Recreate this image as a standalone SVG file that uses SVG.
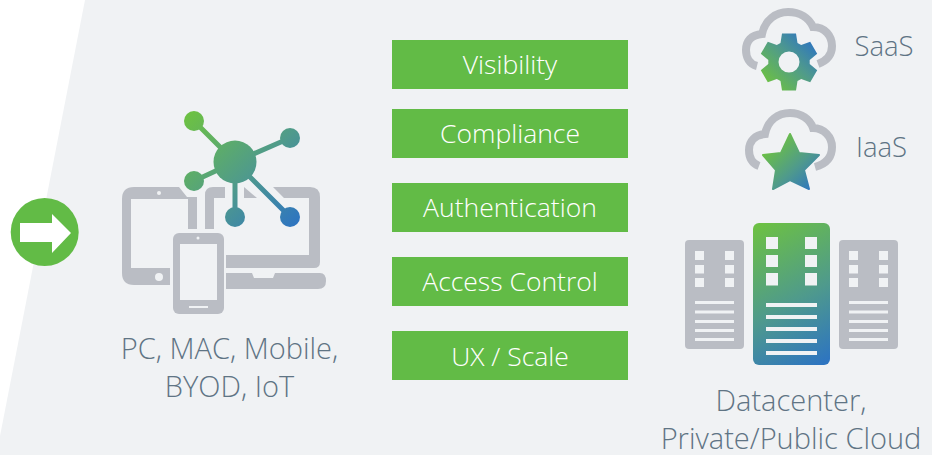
<svg xmlns="http://www.w3.org/2000/svg" width="932" height="455" viewBox="0 0 932 455">
<style>
text{font-family:"Open Sans","Noto Sans","Liberation Sans",sans-serif;font-weight:300}
.box{fill:#62bb46}
.bt{fill:#fff;font-size:26.500px;text-anchor:middle}
.lb{fill:#5f7484;font-size:29px;text-anchor:middle}
.sm{font-size:27.500px}
.dev{fill:#babdc4}
.bg{fill:#f0f2f4}
.cl{fill:none;stroke:#babdc4;stroke-width:8}
.srv{fill:#babdc4}
.sl{fill:#f0f2f4}
</style>
<defs>
<linearGradient id="gn" gradientUnits="userSpaceOnUse" x1="190" y1="115" x2="295" y2="225"><stop offset="0" stop-color="#6cc044"/><stop offset=".55" stop-color="#4f9a8c"/><stop offset="1" stop-color="#2e75c0"/></linearGradient>
<linearGradient id="gg" gradientUnits="userSpaceOnUse" x1="768" y1="84" x2="812" y2="40"><stop offset="0" stop-color="#6cc044"/><stop offset=".55" stop-color="#4f9a8c"/><stop offset="1" stop-color="#2e75c0"/></linearGradient>
<linearGradient id="gs" gradientUnits="userSpaceOnUse" x1="770" y1="146" x2="812" y2="190"><stop offset="0" stop-color="#6cc044"/><stop offset=".55" stop-color="#4f9a8c"/><stop offset="1" stop-color="#2e75c0"/></linearGradient>
<linearGradient id="gd" gradientUnits="userSpaceOnUse" x1="755" y1="228" x2="828" y2="360"><stop offset="0" stop-color="#6cc044"/><stop offset=".55" stop-color="#4f9a8c"/><stop offset="1" stop-color="#2e75c0"/></linearGradient>
<g id="sv"><rect class="srv" x="0" y="0" width="59" height="109" rx="4"/>
<rect class="sl" x="10" y="11" width="9" height="9"/><rect class="sl" x="40" y="11" width="9" height="9"/><rect class="sl" x="10" y="25" width="9" height="8.500"/><rect class="sl" x="40" y="25" width="9" height="8.500"/><rect class="sl" x="10" y="38" width="9" height="9"/><rect class="sl" x="40" y="38" width="9" height="9"/>
<rect class="sl" x="10" y="61" width="39" height="3"/><rect class="sl" x="10" y="70.500" width="39" height="3"/><rect class="sl" x="10" y="80" width="39" height="3"/><rect class="sl" x="10" y="89" width="39" height="3"/><rect class="sl" x="10" y="98" width="39" height="3"/></g>
</defs>
<rect width="932" height="455" fill="#fff"/>
<polygon class="bg" points="85,0 932,0 932,455 0,455 0,436"/>
<g id="arrow-badge"><circle cx="44.700" cy="232" r="34" fill="#62bb46"/><polygon points="20,223 52,223 52,214 71,233 52,253 52,242 20,242" fill="#fff"/></g>
<g id="devices">
<path class="dev" d="M134,187H179L187,197H197V229H188V199H131V268H170V285H134Q122,285 122,273V199Q122,187 134,187Z"/>
<circle class="bg" cx="159" cy="193" r="2"/><circle class="bg" cx="159" cy="277" r="4"/>
<path class="dev" d="M213,187H225V198H214V229H205V195Q205,187 213,187Z"/>
<polygon class="dev" points="244,187 257,198 244,198"/>
<path class="dev" d="M273,187H310Q320,187 320,197V262Q320,268 314,268H226V255H309V198H284Z"/>
<path class="dev" d="M226,273H252L254,278H273L275,273H320Q326,273 326,281Q326,289 318,289H226Z"/>
<rect x="173" y="233" width="51" height="81" rx="6" class="dev"/>
<rect x="180" y="244" width="37" height="56" class="bg"/>
<circle class="bg" cx="198" cy="238" r="1.500"/><rect x="189" y="306" width="19" height="2" class="bg"/>
</g>
<g id="hub" stroke="url(#gn)" fill="url(#gn)">
<path d="M194,121L235,162M290,138L235,162M194,181L235,162M235,217V162M290,217L235,162" stroke-width="5" fill="none"/>
<g stroke="none"><circle cx="235" cy="162" r="21.500"/><circle cx="194" cy="121" r="10"/><circle cx="290" cy="138" r="10"/><circle cx="194" cy="181" r="10"/><circle cx="235" cy="217" r="10"/><circle cx="290" cy="217" r="10"/></g>
</g>
<g id="pc-label"><text class="lb" x="229.500" y="359">PC, MAC, Mobile,</text><text class="lb" x="229.500" y="397">BYOD, IoT</text></g>
<g id="visibility"><rect class="box" x="392" y="40" width="236" height="49"/><text class="bt" x="510" y="74">Visibility</text></g>
<g id="compliance"><rect class="box" x="392" y="109" width="236" height="49"/><text class="bt" x="510" y="143">Compliance</text></g>
<g id="authentication"><rect class="box" x="392" y="183" width="236" height="49"/><text class="bt" x="510" y="217">Authentication</text></g>
<g id="access-control"><rect class="box" x="392" y="257" width="236" height="49"/><text class="bt" x="510" y="291">Access Control</text></g>
<g id="ux-scale"><rect class="box" x="392" y="331" width="236" height="49"/><text class="bt" x="510" y="366">UX / Scale</text></g>
<g id="saas">
<path class="cl" d="M757,66C749,64 746,57 746,50C746,41 751,35 762,34C765,20 776,12 788,12C800,12 809,18 813,27C825,27 832,36 832,46C832,55 826,61 818,64"/>
<path fill="url(#gg)" fill-rule="evenodd" d="M780.500,43L782,33.500H796L797.500,43L801.200,45.100L810.200,41.700L817.200,53.800L809.700,59.900V64.100L817.200,70.200L810.200,82.300L801.200,78.900L797.500,81L796,90.500H782L780.500,81L776.800,78.900L767.800,82.300L760.800,70.200L768.300,64.100V59.900L760.800,53.800L767.800,41.700L776.800,45.100ZM789,51.500A10.500,10.500 0 1 0 789,72.500A10.500,10.500 0 1 0 789,51.500Z"/>
<text class="lb sm" x="884" y="56">SaaS</text>
</g>
<g id="iaas">
<path class="cl" d="M759,166C751,163 749,156 749,150C749,141 755,135 765,134C768,120 778,113 790,113C801,113 810,119 813,128C824,128 832,137 832,147C832,157 826,164 815,167"/>
<polygon fill="url(#gs)" stroke="url(#gs)" stroke-width="2" stroke-linejoin="round" points="790,134 799,153 819,155 804,170 809,189 790,180 773,189 776,170 763,155 781,153"/>
<text class="lb sm" x="881.500" y="157">IaaS</text>
</g>
<g id="datacenter">
<use href="#sv" x="685" y="240"/>
<use href="#sv" x="839" y="240"/>
<rect x="753" y="223" width="77" height="142" rx="6" fill="url(#gd)"/>
<g class="sl"><rect x="766" y="237" width="12" height="12"/><rect x="805" y="237" width="12" height="12"/><rect x="766" y="255" width="12" height="12"/><rect x="805" y="255" width="12" height="12"/><rect x="766" y="273" width="12" height="12.500"/><rect x="805" y="273" width="12" height="12.500"/>
<rect x="766" y="303" width="51" height="4"/><rect x="766" y="315" width="51" height="4"/><rect x="766" y="327" width="51" height="4"/><rect x="766" y="339" width="51" height="4"/><rect x="766" y="351" width="51" height="4"/></g>
<text class="lb" x="791" y="411">Datacenter,</text><text class="lb" x="791" y="449">Private/Public Cloud</text>
</g>
</svg>
